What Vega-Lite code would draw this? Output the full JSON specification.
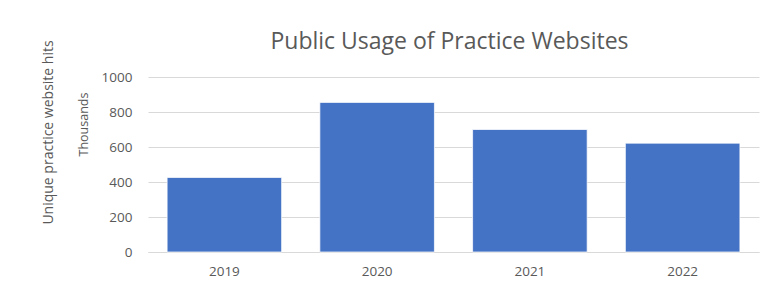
{
  "$schema": "https://vega.github.io/schema/vega-lite/v6.json",
  "autosize": {"type": "none"},
  "width": 611,
  "height": 175,
  "padding": {"left": 148, "top": 77, "right": 12, "bottom": 41},
  "background": "white",
  "title": {
    "text": "Public Usage of Practice Websites",
    "font": "Open Sans",
    "fontSize": 23,
    "fontWeight": "normal",
    "color": "#595959",
    "anchor": "middle",
    "baseline": "alphabetic",
    "offset": 30,
    "dx": -4,
    "dy": 62
  },
  "data": {
    "values": [
      {"year": "2019", "hits": 426},
      {"year": "2020", "hits": 855},
      {"year": "2021", "hits": 700},
      {"year": "2022", "hits": 622}
    ]
  },
  "layer": [
    {
      "mark": {"type": "bar", "color": "#4472C4", "stroke": "#ffffff", "strokeWidth": 0.75},
      "encoding": {
        "x": {
          "field": "year", "type": "ordinal",
          "scale": {"paddingInner": 0.25, "paddingOuter": 0.125},
          "axis": {"title": null, "labelAngle": 0, "ticks": false, "tickSize": 0, "labelPadding": 12,
                   "domainColor": "#d9d9d9", "labelFont": "Open Sans", "labelFontSize": 13.5, "labelColor": "#595959"}
        },
        "y": {
          "field": "hits", "type": "quantitative",
          "scale": {"domain": [0, 1000]},
          "axis": {"values": [0, 200, 400, 600, 800, 1000], "format": "d", "title": "Thousands", "domain": false, "ticks": false, "tickSize": 0,
                   "labelPadding": 16, "gridColor": "#d9d9d9", "labelFont": "Open Sans", "labelFontSize": 13.5, "labelColor": "#595959",
                   "titleFont": "Open Sans", "titleFontSize": 12.5, "titleFontWeight": "normal", "titleColor": "#595959",
                   "titleX": -65, "titleY": 47, "titleAngle": -90, "titleAlign": "center", "titleBaseline": "middle"}
        }
      }
    },
    {
      "mark": {"type": "bar", "opacity": 0},
      "encoding": {
        "x": {"field": "year", "type": "ordinal"},
        "y": {
          "field": "hits", "type": "quantitative",
          "axis": {"orient": "left", "labels": false, "ticks": false, "domain": false, "grid": false,
                   "title": "Unique practice website hits",
                   "titleFont": "Open Sans", "titleFontSize": 14, "titleFontWeight": "normal", "titleColor": "#595959",
                   "titleX": -100, "titleY": 55, "titleAngle": -90, "titleAlign": "center", "titleBaseline": "middle"}
        }
      }
    }
  ],
  "resolve": {"axis": {"y": "independent"}},
  "config": {"view": {"stroke": null}}
}
